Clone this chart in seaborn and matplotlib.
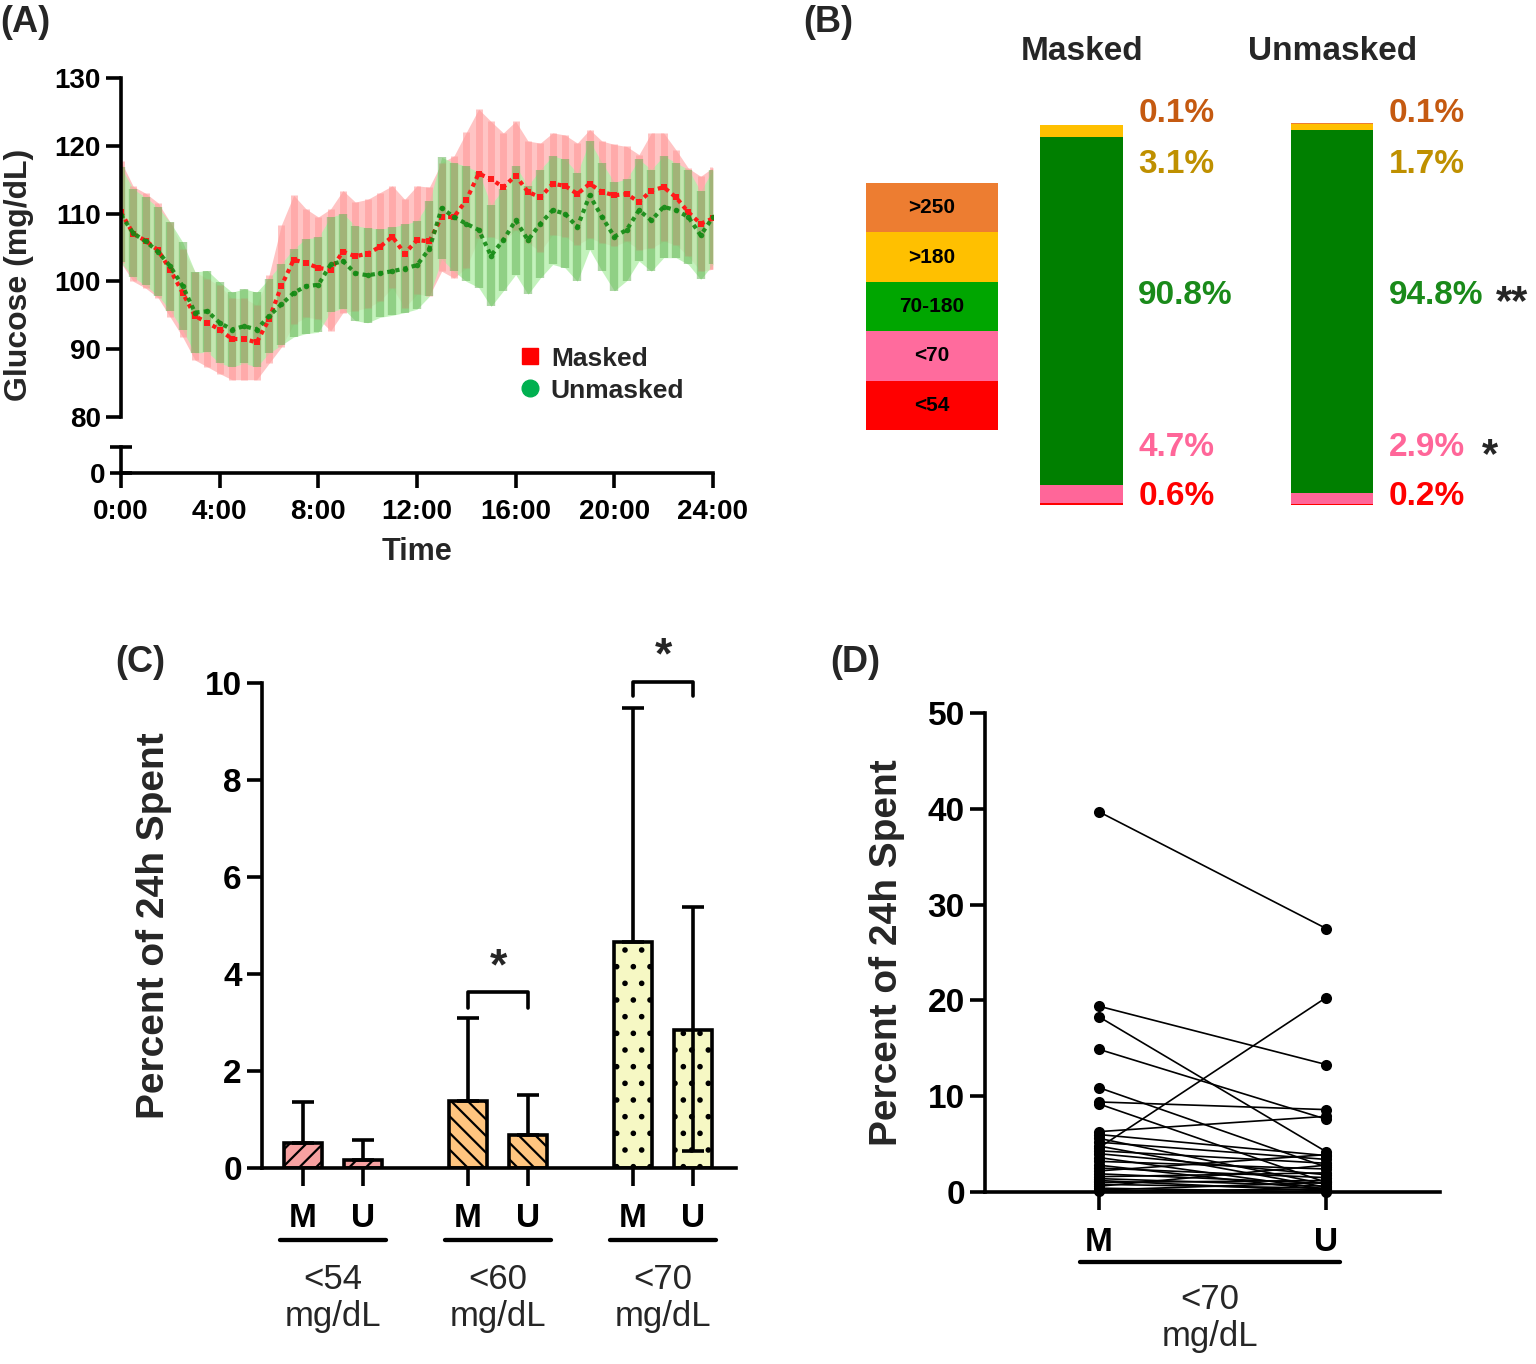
import numpy as np
import pandas as pd
import matplotlib
matplotlib.use('Agg')
import matplotlib.pyplot as plt
from matplotlib.lines import Line2D
import seaborn as sns

# ---- (A) mean glucose over 24 h, every 30 min ----
hours = [0, 0.5, 1, 1.5, 2, 2.5, 3, 3.5, 4, 4.5, 5, 5.5, 6, 6.5, 7, 7.5, 8, 8.5,
         9, 9.5, 10, 10.5, 11, 11.5, 12, 12.5, 13, 13.5, 14, 14.5, 15, 15.5, 16,
         16.5, 17, 17.5, 18, 18.5, 19, 19.5, 20, 20.5, 21, 21.5, 22, 22.5, 23,
         23.5, 24]
masked_mean = [110.2, 107.0, 106.0, 104.6, 101.7, 98.3, 94.9, 93.9, 92.9, 91.5,
               91.5, 91.0, 94.4, 99.3, 103.2, 102.7, 102.0, 101.7, 104.4, 103.7,
               104.1, 105.1, 106.6, 104.1, 106.1, 105.9, 109.5, 109.5, 112.0,
               115.9, 115.1, 113.9, 115.6, 113.2, 112.4, 114.4, 114.1, 112.9,
               114.4, 113.2, 112.7, 112.9, 111.7, 113.4, 113.9, 112.4, 110.2,
               108.5, 109.3]
masked_err = [7.5, 7, 7, 7, 7, 6.5, 6.5, 6.5, 6.5, 6, 6, 5.5, 6.5, 9, 9.5, 8, 7.5,
              9, 9, 8, 8, 8, 7.5, 8, 8, 8, 8, 9, 10, 9.5, 8.5, 8, 8, 7.5, 8, 7.5,
              7.5, 7.5, 8, 7.5, 7.5, 7, 7, 8.5, 8, 7, 6.5, 7, 7.5]
unmasked_mean = [109.8, 107.1, 105.9, 104.4, 102.2, 99.3, 95.4, 95.6, 93.9, 92.9,
                 93.4, 92.9, 94.9, 96.6, 98.3, 99.3, 99.5, 102.5, 103.0, 101.2,
                 100.9, 101.2, 101.5, 101.9, 102.4, 104.8, 110.8, 109.5, 108.5,
                 107.6, 103.8, 106.1, 109.0, 106.1, 108.5, 110.5, 110.0, 108.0,
                 112.7, 109.5, 106.6, 107.6, 110.5, 109.0, 111.0, 110.5, 109.5,
                 106.8, 109.5]
unmasked_err = [7, 6.5, 6.5, 6.5, 6.5, 6.5, 6, 6, 6, 5.5, 5.5, 5.5, 5.5, 6, 6.5, 7,
                7, 7, 7, 7, 7, 6.5, 6.5, 6.5, 6.5, 7, 7.5, 8, 8.5, 8.5, 7.5, 7.5,
                8, 8, 8, 8, 8, 8, 8, 8, 8, 7.5, 7.5, 7.5, 7.5, 7, 7, 6.5, 7]
time_ticks = [0, 4, 8, 12, 16, 20, 24]
time_labels = ['0:00', '4:00', '8:00', '12:00', '16:00', '20:00', '24:00']

# ---- (B) time in range (%) ----
tir_ranges = ['<54', '<70', '70-180', '>180', '>250']
masked_tir = [0.6, 4.7, 90.8, 3.1, 0.1]
unmasked_tir = [0.2, 2.9, 94.8, 1.7, 0.1]

# ---- (C) percent of 24h below thresholds ----
c_thresh = ['<54', '<54', '<60', '<60', '<70', '<70']
c_cond = ['M', 'U', 'M', 'U', 'M', 'U']
c_mean = [0.52, 0.17, 1.39, 0.68, 4.65, 2.84]
c_top = [1.37, 0.57, 3.10, 1.50, 9.48, 5.39]
c_bottom = [0.52, 0.17, 1.39, 0.68, 4.65, 0.35]

# ---- (D) per subject, <70 mg/dL ----
d_masked = [39.7, 19.4, 18.3, 14.9, 10.9, 9.4, 9.2, 6.3, 6.0, 5.6, 5.2, 4.8, 4.6,
            4.3, 4.0, 3.6, 3.2, 2.8, 2.5, 2.2, 1.9, 1.6, 1.4, 1.2, 1.0, 0.8, 0.6,
            0.4, 0.2, 0.1]
d_unmasked = [27.5, 13.3, 4.2, 7.6, 2.6, 8.6, 1.0, 7.9, 3.8, 0.8, 3.4, 0.5, 20.3,
              3.0, 1.8, 0.3, 2.4, 0.2, 1.5, 3.9, 0.9, 2.0, 0.6, 0.1, 1.2, 0.4, 2.8,
              0.0, 1.0, 0.3]

W, H = 1536, 1364
sns.set_style('ticks')
plt.rcParams['font.family'] = ['Liberation Sans', 'DejaVu Sans']
plt.rcParams['hatch.linewidth'] = 1.6
LW = 2.6


def px_rect(x0, y0, x1, y1):
    return [x0 / W, 1 - y1 / H, (x1 - x0) / W, (y1 - y0) / H]


def style_axis(ax, size):
    for s in ['top', 'right']:
        ax.spines[s].set_visible(False)
    for s in ['left', 'bottom']:
        ax.spines[s].set_linewidth(LW)
        ax.spines[s].set_color('black')
    ax.tick_params(width=LW, length=11, labelsize=size, colors='black')
    for lab in ax.get_xticklabels() + ax.get_yticklabels():
        lab.set_fontweight('bold')


fig = plt.figure(figsize=(W / 100, H / 100), dpi=100)

# ================= (A) =================
axA = fig.add_axes(px_rect(121, 78, 713, 417))
axA0 = fig.add_axes(px_rect(121, 447, 713, 473))

m_lo = np.array(masked_mean) - np.array(masked_err)
m_hi = np.array(masked_mean) + np.array(masked_err)
u_lo = np.array(unmasked_mean) - np.array(unmasked_err)
u_hi = np.array(unmasked_mean) + np.array(unmasked_err)

axA.fill_between(hours, m_lo, m_hi, color='#ffc4c4', lw=0)
axA.vlines(hours, m_lo, m_hi, color='#ff9a9a', lw=5, alpha=0.6)
axA.fill_between(hours, u_lo, u_hi, color='#b4efac', lw=0, alpha=0.8)
axA.vlines(hours, u_lo, u_hi, color='#5fb04f', lw=6, alpha=0.5)

sns.lineplot(x=hours, y=masked_mean, ax=axA, color='#ff1a1a', lw=3,
             linestyle=(0, (1, 1)), marker='s', markersize=4, markeredgewidth=0)
sns.lineplot(x=hours, y=unmasked_mean, ax=axA, color='#138a13', lw=3,
             linestyle=(0, (1, 1)), marker='o', markersize=4, markeredgewidth=0,
             alpha=0.9)

axA.set_xlim(0, 24)
axA.set_ylim(80, 130)
axA.set_yticks([80, 90, 100, 110, 120, 130])
axA.set_xticks([])
axA.set_xlabel('')
axA.set_ylabel('Glucose (mg/dL)', fontsize=23, fontweight='bold')
style_axis(axA, 20)
axA.spines['bottom'].set_visible(False)
axA.yaxis.set_label_coords(-0.147, 0.42)

handles = [Line2D([], [], ls='none', marker='s', color='#ff0000', markersize=12),
           Line2D([], [], ls='none', marker='o', color='#00b050', markersize=12)]
leg = axA.legend(handles, ['Masked', 'Unmasked'], loc='center left',
                 bbox_to_anchor=(0.628, 0.125), frameon=False, handletextpad=0.3,
                 handlelength=1.0, labelspacing=0.3,
                 prop={'size': 19, 'weight': 'bold'})

axA0.set_xlim(0, 24)
axA0.set_ylim(0, 1)
axA0.set_yticks([0, 1])
axA0.set_yticklabels(['0', ''])
axA0.set_xticks(time_ticks)
axA0.set_xticklabels(time_labels)
axA0.set_xlabel('Time', fontsize=22, fontweight='bold', labelpad=8)
style_axis(axA0, 20)
axA0.tick_params(axis='y', direction='inout', length=16)
axA0.tick_params(axis='x', pad=8)

# ================= (B) =================
axB = fig.add_axes(px_rect(1000, 122, 1440, 505))
bar_cols = ['#ff0000', '#ff6699', '#007f00', '#ffc000', '#ed7d31']
text_cols = ['#ff0000', '#ff6699', '#1a8a1a', '#bf9000', '#c55a11']
groups = ['Masked', 'Unmasked']
for i in range(len(tir_ranges) - 1, -1, -1):
    cum = [sum(masked_tir[:i + 1]), sum(unmasked_tir[:i + 1])]
    sns.barplot(x=groups, y=cum, color=bar_cols[i], width=0.33, linewidth=0,
                saturation=1, ax=axB)
axB.set_xlim(-0.326, 1.431)
axB.set_ylim(0, 100)
axB.axis('off')

label_y = [2.1, 15.1, 54.8, 88.8, 102.3]
for gi, vals in enumerate([masked_tir, unmasked_tir]):
    axB.text(gi, 118.3, groups[gi], ha='center', va='center', fontsize=24,
             fontweight='bold', clip_on=False)
    for i, v in enumerate(vals):
        axB.text(gi + 0.226, label_y[i], f'{v}%', ha='left', va='center',
                 fontsize=24, fontweight='bold', color=text_cols[i], clip_on=False)
axB.text(1.72, label_y[2] - 2.2, '**', ha='center', va='center', fontsize=30,
         fontweight='bold', clip_on=False)
axB.text(1.63, label_y[1] - 2.4, '*', ha='center', va='center', fontsize=30,
         fontweight='bold', clip_on=False)

axL = fig.add_axes(px_rect(866, 183, 998, 430))
leg_cols = ['#ed7d31', '#ffc000', '#00a600', '#ff6b9d', '#ff0000']
leg_labels = tir_ranges[::-1]
sns.barplot(x=[1] * 5, y=leg_labels, hue=leg_labels, palette=leg_cols,
            orient='h', width=1, saturation=1, legend=False, linewidth=0, ax=axL)
axL.set_xlim(0, 1)
axL.axis('off')
for i, lab in enumerate(leg_labels):
    axL.text(0.5, i, lab, ha='center', va='center', fontsize=15,
             fontweight='bold', color='black')

# ================= (C) =================
axC = fig.add_axes(px_rect(262, 683, 736, 1168))
c_pos = [0, 1, 2.75, 3.75, 5.5, 6.5]
c_pal = {'<54': '#f7a1a1', '<60': '#ffc57f', '<70': '#f6f8c4'}
c_hatch = {'<54': '//', '<60': '\\\\', '<70': '.'}
dfc = pd.DataFrame({'pos': c_pos, 'mean': c_mean, 'thresh': c_thresh})
sns.barplot(data=dfc, x='pos', y='mean', hue='thresh', palette=c_pal,
            native_scale=True, dodge=False, width=0.63, edgecolor='black',
            linewidth=LW, errorbar=None, legend=False, saturation=1, ax=axC)
for p in axC.patches:
    cx = p.get_x() + p.get_width() / 2
    k = int(np.argmin([abs(cx - q) for q in c_pos]))
    p.set_hatch(c_hatch[c_thresh[k]])

lower = np.array(c_mean) - np.array(c_bottom)
upper = np.array(c_top) - np.array(c_mean)
axC.errorbar(c_pos, c_mean, yerr=[lower, upper], fmt='none', ecolor='black',
             elinewidth=LW, capsize=8, capthick=LW, zorder=5)

for (x0, x1, yb, yl, ys) in [(2.75, 3.75, 3.62, 3.3, 3.7),
                             (5.5, 6.5, 10.02, 9.73, 10.12)]:
    axC.plot([x0, x0, x1, x1], [yl, yb, yb, yl], color='black', lw=LW,
             clip_on=False)
    axC.text((x0 + x1) / 2, ys, '*', ha='center', va='bottom', fontsize=32,
             fontweight='bold', clip_on=False)

axC.set_xlim(-0.683, 7.217)
axC.set_ylim(0, 10)
axC.set_yticks([0, 2, 4, 6, 8, 10])
axC.set_xticks(c_pos)
axC.set_xticklabels(c_cond)
axC.set_xlabel('')
axC.set_ylabel('Percent of 24h Spent', fontsize=28, fontweight='bold')
style_axis(axC, 24)
axC.tick_params(axis='x', length=13, pad=12)
axC.yaxis.set_label_coords(-0.19, 0.5)

trC = axC.get_xaxis_transform()
for gi, lab in enumerate(['<54', '<60', '<70']):
    x0, x1 = c_pos[2 * gi], c_pos[2 * gi + 1]
    axC.plot([x0 - 0.38, x1 + 0.38], [-0.148, -0.148], transform=trC,
             color='black', lw=LW + 0.5, clip_on=False)
    axC.text((x0 + x1) / 2, -0.268, lab + '\nmg/dL', transform=trC,
             ha='center', va='center', fontsize=25, linespacing=1.15)

# ================= (D) =================
axD = fig.add_axes(px_rect(985, 713, 1440, 1192))
n = len(d_masked)
dfd = pd.DataFrame({'subject': list(range(n)) * 2,
                    'pos': [0] * n + [1] * n,
                    'value': d_masked + d_unmasked})
sns.lineplot(data=dfd, x='pos', y='value', units='subject', estimator=None,
             color='black', lw=1.2, marker='o', markersize=8,
             markeredgewidth=0, ax=axD)
for ln in axD.lines:
    ln.set_clip_on(False)
axD.set_xlim(-0.5, 1.5)
axD.set_ylim(0, 50)
axD.set_yticks([0, 10, 20, 30, 40, 50])
axD.set_xticks([0, 1])
axD.set_xticklabels(['M', 'U'])
axD.set_xlabel('')
axD.set_ylabel('Percent of 24h Spent', fontsize=28, fontweight='bold')
style_axis(axD, 24)
axD.tick_params(axis='x', length=13, pad=12)
axD.yaxis.set_label_coords(-0.176, 0.5)
trD = axD.get_xaxis_transform()
axD.plot([-0.084, 1.06], [-0.146, -0.146], transform=trD, color='black',
         lw=LW + 0.5, clip_on=False)
axD.text(0.49, -0.263, '<70\nmg/dL', transform=trD, ha='center', va='center',
         fontsize=25, linespacing=1.15)

# panel letters
for lab, x, y in [('(A)', 0, 22), ('(B)', 803, 22), ('(C)', 115, 662),
                  ('(D)', 830, 662)]:
    fig.text(x / W, 1 - y / H, lab, ha='left', va='center', fontsize=26,
             fontweight='bold')

fig.savefig('out.png', dpi=100)
